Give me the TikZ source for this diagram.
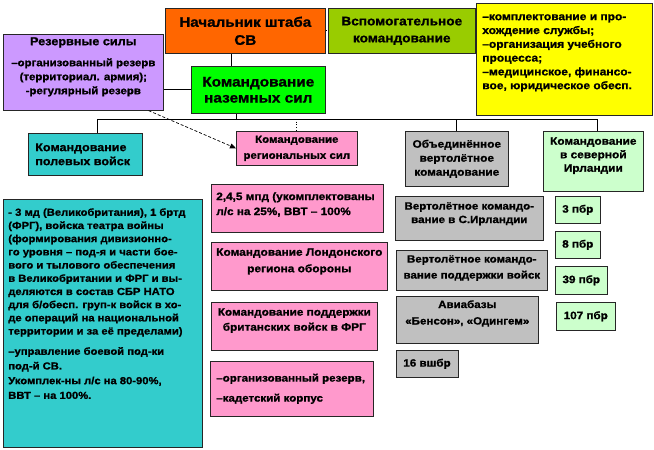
\documentclass[tikz,border=0pt]{standalone}
\usepackage{fontspec}
\setmainfont{Liberation Sans}[FakeStretch=1.1, BoldFeatures={FakeBold=1.2}]
\usepackage{tikz}
\usetikzlibrary{arrows.meta}

\definecolor{shtab}{HTML}{FF6600}
\definecolor{olive}{HTML}{99CC00}
\definecolor{zhelt}{HTML}{FFFF00}
\definecolor{siren}{HTML}{CC99FF}
\definecolor{zelen}{HTML}{00FF00}
\definecolor{birjuza}{HTML}{33CCCC}
\definecolor{rozov}{HTML}{FF99CC}
\definecolor{ser}{HTML}{C0C0C0}
\definecolor{svzelen}{HTML}{CCFFCC}

% width, height, inner position, alignment, text
\newcommand{\cell}[5]{\parbox[c][\dimexpr#2pt-6pt\relax][#3]{\dimexpr#1pt-6pt\relax}{#4#5}}
\newcommand{\fsz}[2]{\fontsize{#1}{#2}\selectfont}

\begin{document}
\begin{tikzpicture}[x=1pt,y=-1pt,
    blk/.style={draw=black!85, line width=0.6pt, inner sep=3pt, anchor=north west, font=\bfseries\fsz{10.6}{13}},
    link/.style={draw=black, line width=0.7pt}]
	\useasboundingbox (0,0) rectangle (654,450);
	% Draw top level
	\node[blk, fill=shtab, font=\bfseries\fsz{13.8}{18}] (nachshtab) at (165,8) {\cell{160}{45}{c}{\centering}{Начальник  штаба\\СВ}};
	\node[blk, fill=olive, font=\bfseries\fsz{12.4}{17}] (vspom) at (328,8) {\cell{147}{45}{c}{\centering}{Вспомогательное\\командование}};
	\node[blk, fill=zhelt, font=\bfseries\fsz{10.9}{13.8}] (obesp) at (476,3) {\cell{176}{112}{t}{\raggedright\leftskip=3pt}{\vspace*{8pt}–комплектование и про-\\хождение службы;\\–организация учебного\\процесса;\\–медицинское, финансо-\\вое, юридическое обесп.}};
	\node[blk, fill=siren, font=\bfseries\fsz{10.4}{14}] (rezerv) at (3,34) {\cell{160}{76}{t}{\centering}{{\fsz{11.5}{14}Резервные силы}\\[7pt]–организованный резерв\\(территориал. армия);\\-регулярный резерв}};
	\node[blk, fill=zelen, font=\bfseries\fsz{14}{16}] (nazem) at (191,66) {\cell{134}{47}{c}{\centering}{Командование\\наземных  сил}};
	% Draw second level
	\node[blk, fill=birjuza, font=\bfseries\fsz{11.4}{14}] (polev) at (28,133) {\cell{114}{42}{c}{\raggedright\leftskip=4pt}{Командование\\полевых  войск}};
	\node[blk, fill=rozov, font=\bfseries\fsz{10.4}{16}] (regional) at (236,131) {\cell{121}{34}{c}{\centering}{Командование\\региональных сил}};
	\node[blk, fill=ser, font=\bfseries\fsz{10.8}{14}] (vertkom) at (405,131) {\cell{103}{55}{c}{\centering}{Объединённое\\вертолётное\\командование}};
	\node[blk, fill=svzelen, font=\bfseries\fsz{10.8}{13.5}] (nireland) at (543,131) {\cell{100}{60}{t}{\centering}{\vspace*{3pt}Командование\\в северной\\Ирландии}};
	% Field forces
	\node[blk, fill=birjuza, font=\bfseries\fsz{10.2}{13.2}] (sostav) at (3,199) {\cell{199}{248}{t}{\raggedright\leftskip=2pt}{\vspace*{6pt}- 3 мд (Великобритания), 1 бртд\\(ФРГ), войска театра войны\\(формирования дивизионно-\\го уровня – под-я и части бое-\\вого и тылового  обеспечения\\в  Великобритании и ФРГ и вы-\\деляются в состав  СБР НАТО\\для б/обесп. груп-к войск в хо-\\де операций на национальной\\территории и за её пределами)\\[7pt]–управление боевой под-ки\\[1.5pt]под-й СВ.\\[1.5pt]Укомплек-ны л/с на 80-90\%,\\[1.5pt]ВВТ – на 100\%.}};
	% Regional forces
	\node[blk, fill=rozov, font=\bfseries\fsz{10.7}{15}] (mpd) at (211,184) {\cell{172}{48}{t}{\raggedright\leftskip=2pt}{\vspace*{5pt}2,4,5 мпд (укомплектованы\\л/с на 25\%, ВВТ – 100\%}};
	\node[blk, fill=rozov, font=\bfseries\fsz{10.8}{16.5}] (london) at (211,242) {\cell{176}{48}{t}{\centering}{\vspace*{3pt}Командование Лондонского\\региона обороны}};
	\node[blk, fill=rozov, font=\bfseries\fsz{10.7}{15}] (podderzh) at (211,302) {\cell{166}{48}{t}{\centering}{\vspace*{3pt}Командование поддержки\\британских войск в ФРГ}};
	\node[blk, fill=rozov, font=\bfseries\fsz{10.5}{20}] (kadet) at (210,361) {\cell{163}{55}{c}{\raggedright\leftskip=3pt}{–организованный резерв,\\–кадетский корпус}};
	% Helicopter forces
	\node[blk, fill=ser, font=\bfseries\fsz{10.5}{13.5}] (vert1) at (395,196) {\cell{148}{44}{t}{\centering}{\vspace*{3pt}Вертолётное командо-\\вание в С.Ирландии}};
	\node[blk, fill=ser, font=\bfseries\fsz{10.5}{16}] (vert2) at (396,250) {\cell{151}{40}{t}{\centering}{\vspace*{2pt}Вертолётное командо-\\вание поддержки войск}};
	\node[blk, fill=ser, font=\bfseries\fsz{10.5}{16.5}] (aviab) at (396,296) {\cell{142}{47}{t}{\centering}{\vspace*{1pt}Авиабазы\\«Бенсон», «Одингем»}};
	\node[blk, fill=ser] (vshbr) at (396,350) {\cell{62}{27}{c}{\raggedright\leftskip=4pt}{16 вшбр}};
	% Brigades
	\node[blk, fill=svzelen] (p3) at (555,196) {\cell{45}{27}{c}{\centering}{3 пбр}};
	\node[blk, fill=svzelen] (p8) at (555,231) {\cell{45}{27}{c}{\centering}{8 пбр}};
	\node[blk, fill=svzelen] (p39) at (555,266) {\cell{52}{28}{c}{\centering}{39 пбр}};
	\node[blk, fill=svzelen] (p107) at (556,302) {\cell{59}{28}{c}{\centering}{107 пбр}};
	% Draw links
	\coordinate (busL) at (97,119);
	\coordinate (busR) at (597,119);
	\draw[link] ([xshift=-14]nachshtab.south) -- ([xshift=-14]nachshtab.south |- nazem.north);
	\draw[link, dotted] (nachshtab.east) -- (vspom.west);
	\draw[link] (nazem.west) -- (nazem.west -| rezerv.east);
	\draw[link] ([xshift=-22]nazem.south) -- ([xshift=-22]nazem.south |- busL);
	\draw[link, line width=0.9pt] (busL) -- (busR);
	\draw[link] (busL) -- (busL |- polev.north);
	\draw[link, dotted] (regional.north |- busL) -- (regional.north);
	\draw[link] (vertkom.north |- busL) -- (vertkom.north);
	\draw[link] (busR) -- (busR |- nireland.north);
	% Arrow to regional forces
	\draw[link, densely dashed, -{Triangle[length=6pt,width=5pt]}] ([xshift=-15]rezerv.south east) -- (regional.west);
\end{tikzpicture}
\end{document}
